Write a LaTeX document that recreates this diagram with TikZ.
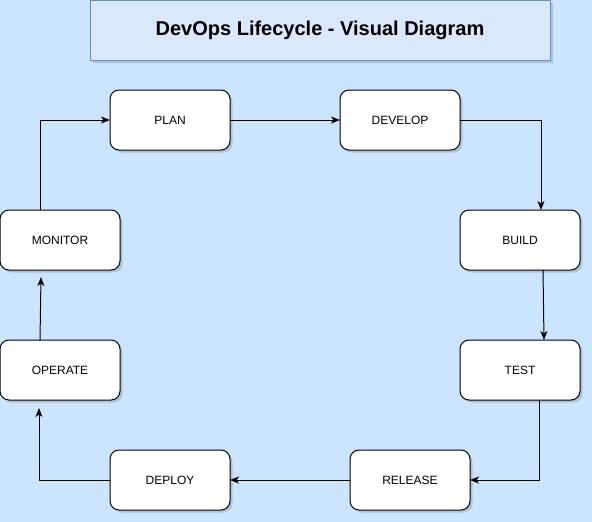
\documentclass[tikz,border=0pt]{standalone}
\usepackage{fontspec}
\setmainfont{Liberation Sans}
\usetikzlibrary{arrows.meta,shadows}
\definecolor{bgblue}{HTML}{CCE5FF}
\definecolor{titlefill}{HTML}{DAE8FC}
\definecolor{titleline}{HTML}{6C8EBF}
\tikzset{
  stagebox/.style={draw=black, fill=white, rounded corners=9pt, line width=1pt,
    minimum width=120pt, minimum height=60pt, inner sep=0pt, outer sep=0pt,
    font=\fontsize{12}{14}\selectfont,
    drop shadow={shadow xshift=2.5pt, shadow yshift=-2.5pt, opacity=0.22, fill=black!70}},
  titlebox/.style={draw=titleline, fill=titlefill, line width=1pt,
    minimum width=460pt, minimum height=60pt, inner sep=0pt, outer sep=0pt,
    font=\bfseries\fontsize{20}{24}\selectfont,
    drop shadow={shadow xshift=2.5pt, shadow yshift=-2.5pt, opacity=0.22, fill=black!70}},
  flow/.style={draw=black, line width=1pt, -{Stealth[length=9pt,width=7pt,inset=2.5pt]}}
}
\begin{document}
\begin{tikzpicture}[x=1pt,y=-1pt]
  \fill[bgblue] (0,0) rectangle (592,522);
  \useasboundingbox (0,0) rectangle (592,522);
  \node[titlebox] (title) at (320,30) {DevOps Lifecycle - Visual Diagram};
  \node[stagebox] (plan) at (170,120) {PLAN};
  \node[stagebox] (develop) at (400,120) {DEVELOP};
  \node[stagebox] (build) at (520,240) {BUILD};
  \node[stagebox] (test) at (520,370) {TEST};
  \node[stagebox] (release) at (410,480) {RELEASE};
  \node[stagebox] (deploy) at (170,480) {DEPLOY};
  \node[stagebox] (operate) at (60,370) {OPERATE};
  \node[stagebox] (monitor) at (60,240) {MONITOR};
  \draw[flow] ([xshift=-20pt]monitor.north) |- (plan.west);
  \draw[flow] (plan.east) -- (develop.west);
  \draw[flow] (develop.east) -| ([xshift=21pt]build.north);
  \draw[flow] ([xshift=23pt]build.south) -- ([xshift=24pt]test.north);
  \draw[flow] ([xshift=19pt]test.south) |- (release.east);
  \draw[flow] (release.west) -- (deploy.east);
  \draw[flow] (deploy.west) -| ([xshift=-21pt,yshift=-8pt]operate.south);
  \draw[flow] ([xshift=-20pt]operate.north) -- ([xshift=-19pt,yshift=-7pt]monitor.south);
\end{tikzpicture}
\end{document}
